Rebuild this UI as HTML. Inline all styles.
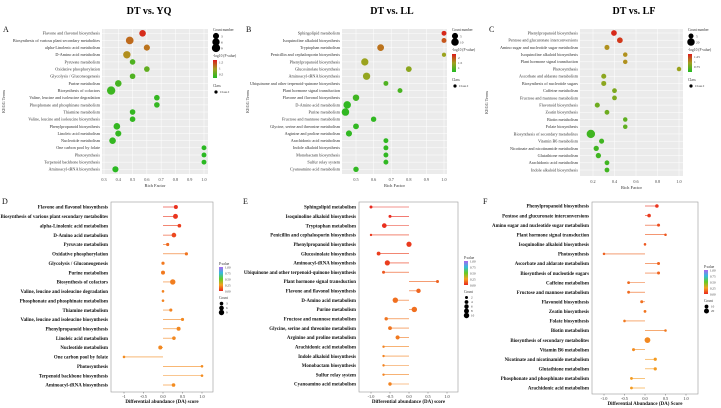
<!DOCTYPE html>
<html><head><meta charset="utf-8">
<style>
html,body{margin:0;padding:0;background:#fff;}
svg{display:block;font-family:"Liberation Serif",serif;}
</style></head>
<body>
<svg id="fig" width="721" height="408" viewBox="0 0 721 408" xmlns="http://www.w3.org/2000/svg">
<defs>
<linearGradient id="gGR" x1="0" y1="1" x2="0" y2="0"><stop offset="0" stop-color="#22bb22"/><stop offset="0.5" stop-color="#a0a020"/><stop offset="1" stop-color="#dd1a1a"/></linearGradient>
<linearGradient id="gP" x1="0" y1="1" x2="0" y2="0"><stop offset="0" stop-color="#e8261e"/><stop offset="0.25" stop-color="#f5a020"/><stop offset="0.5" stop-color="#66cc22"/><stop offset="0.75" stop-color="#33bbdd"/><stop offset="1" stop-color="#aa66ee"/></linearGradient>
</defs>
<text x="149" y="14" font-size="10" font-weight="bold" text-anchor="middle">DT vs. YQ</text>
<text x="392" y="14" font-size="10" font-weight="bold" text-anchor="middle">DT vs. LL</text>
<text x="634" y="14" font-size="10" font-weight="bold" text-anchor="middle">DT vs. LF</text>
<g id="root"></g>
</svg>
<script>
// ---- Panel A data ----
const catsA=["Flavone and flavonol biosynthesis","Biosynthesis of various plant secondary metabolites","alpha-Linolenic acid metabolism","D-Amino acid metabolism","Pyruvate metabolism","Oxidative phosphorylation","Glycolysis / Gluconeogenesis","Purine metabolism","Biosynthesis of cofactors","Valine, leucine and isoleucine degradation","Phosphonate and phosphinate metabolism","Thiamine metabolism","Valine, leucine and isoleucine biosynthesis","Phenylpropanoid biosynthesis","Linoleic acid metabolism","Nucleotide metabolism","One carbon pool by folate","Photosynthesis","Terpenoid backbone biosynthesis","Aminoacyl-tRNA biosynthesis"];
const richA=[0.57,0.48,0.6,0.46,0.5,0.6,0.5,0.4,0.35,0.67,0.67,0.5,0.5,0.39,0.4,0.36,1.0,1.0,1.0,0.38];
const cntA=[4,7,3,6,2,2,2,4,9,2,2,2,2,4,3,4,1,1,1,3];
const logPA=[1.6,1.25,1.2,1.05,0.45,0.55,0.45,0.4,0.35,0.3,0.3,0.3,0.3,0.3,0.3,0.3,0.25,0.25,0.25,0.25];
const ticksA=[0.3,0.4,0.5,0.6,0.7,0.8,0.9,1.0];
// ---- Panel B data ----
const catsB=["Sphingolipid metabolism","Isoquinoline alkaloid biosynthesis","Tryptophan metabolism","Penicillin and cephalosporin biosynthesis","Phenylpropanoid biosynthesis","Glucosinolate biosynthesis","Aminoacyl-tRNA biosynthesis","Ubiquinone and other terpenoid-quinone biosynthesis","Plant hormone signal transduction","Flavone and flavonol biosynthesis","D-Amino acid metabolism","Purine metabolism","Fructose and mannose metabolism","Glycine, serine and threonine metabolism","Arginine and proline metabolism","Arachidonic acid metabolism","Indole alkaloid biosynthesis","Monobactam biosynthesis","Sulfur relay system","Cyanoamino acid metabolism"];
const richB=[1.0,1.0,0.64,1.0,0.55,0.8,0.56,0.67,0.75,0.5,0.45,0.44,0.6,0.5,0.46,0.67,0.67,0.67,0.67,0.5];
const cntB=[2,2,7,1,9,4,9,2,2,6,10,10,3,4,5,2,2,2,2,3];
const logPB=[2.3,2.0,1.8,1.4,1.4,1.3,1.35,0.9,0.85,0.8,0.7,0.7,0.7,0.7,0.7,0.7,0.7,0.7,0.7,0.7];
const ticksB=[0.5,0.6,0.7,0.8,0.9,1.0];
// ---- Panel C data ----
const catsC=["Phenylpropanoid biosynthesis","Pentose and glucuronate interconversions","Amino sugar and nucleotide sugar metabolism","Isoquinoline alkaloid biosynthesis","Plant hormone signal transduction","Photosynthesis","Ascorbate and aldarate metabolism","Biosynthesis of nucleotide sugars","Caffeine metabolism","Fructose and mannose metabolism","Flavonoid biosynthesis","Zeatin biosynthesis","Biotin metabolism","Folate biosynthesis","Biosynthesis of secondary metabolites","Vitamin B6 metabolism","Nicotinate and nicotinamide metabolism","Glutathione metabolism","Arachidonic acid metabolism","Indole alkaloid biosynthesis"];
const richC=[0.395,0.45,0.33,0.5,0.5,1.0,0.3,0.3,0.4,0.4,0.24,0.33,0.5,0.5,0.18,0.28,0.23,0.25,0.33,0.33];
const cntC=[8,8,5,3,3,3,5,5,4,4,5,4,3,3,28,5,6,6,4,4];
const logPC=[1.35,1.3,1.0,1.0,1.0,0.9,0.85,0.85,0.8,0.8,0.75,0.75,0.7,0.7,0.6,0.6,0.6,0.6,0.6,0.6];
const ticksC=[0.2,0.4,0.6,0.8,1.0];
// ---- Panel D data ----
const daD=[0.33,0.32,0.42,0.28,0.12,0.6,0,0,0.25,0,0,0.2,0.5,0.4,0.28,-0.07,-1.0,1.0,1.0,0.27];
const cntDv=[4,7,3,6,2,2,2,4,9,1,1,2,2,4,3,4,1,1,1,3];
const pD=[0.02,0.03,0.05,0.07,0.14,0.16,0.17,0.17,0.18,0.19,0.19,0.19,0.2,0.2,0.2,0.2,0.21,0.21,0.21,0.21];
const ticksDA=[-1,-0.5,0,0.5,1];
// ---- Panel E data ----
const daE=[-1.0,-0.5,-0.65,-1.0,0.0,-0.8,-0.57,-0.67,0.75,0.25,-0.36,0.14,-0.6,-0.5,-0.3,-0.67,-0.67,-0.67,-0.67,-0.5];
const cntE=[2,2,7,1,9,4,9,2,2,6,10,10,3,4,5,1,1,1,1,3];
const pE=[0.005,0.01,0.02,0.04,0.04,0.05,0.05,0.1,0.12,0.13,0.15,0.15,0.16,0.16,0.17,0.19,0.19,0.19,0.19,0.19];
// ---- Panel F data ----
const catsF=["Phenylpropanoid biosynthesis","Pentose and glucuronate interconversions","Amino sugar and nucleotide sugar metabolism","Plant hormone signal transduction","Isoquinoline alkaloid biosynthesis","Photosynthesis","Ascorbate and aldarate metabolism","Biosynthesis of nucleotide sugars","Caffeine metabolism","Fructose and mannose metabolism","Flavonoid biosynthesis","Zeatin biosynthesis","Folate biosynthesis","Biotin metabolism","Biosynthesis of secondary metabolites","Vitamin B6 metabolism","Nicotinate and nicotinamide metabolism","Glutathione metabolism","Phosphonate and phosphinate metabolism","Arachidonic acid metabolism"];
const daF=[0.29,0.1,0.33,0.5,0,-1.0,0.33,0.33,-0.4,-0.4,-0.08,0,-0.5,0.5,0.06,-0.28,0.25,0.25,-0.33,-0.33];
const cntF=[8,8,5,3,3,3,5,5,4,4,5,4,3,3,28,5,6,6,4,4];
const pF=[0.03,0.04,0.08,0.1,0.1,0.12,0.13,0.13,0.14,0.14,0.15,0.16,0.17,0.17,0.2,0.21,0.24,0.24,0.24,0.24];
const catsE=catsB;

const NS="http://www.w3.org/2000/svg";
const root=document.getElementById('root');
function el(tag,attrs,parent,txt){const e=document.createElementNS(NS,tag);for(const k in attrs)e.setAttribute(k,attrs[k]);if(txt!==undefined)e.textContent=txt;(parent||root).appendChild(e);return e;}
function lerp(a,b,t){return a+(b-a)*t;}
function mix(c1,c2,t){return 'rgb('+[0,1,2].map(i=>Math.round(lerp(c1[i],c2[i],t))).join(',')+')';}
function grColor(v,lo,hi){let t=Math.max(0,Math.min(1,(v-lo)/(hi-lo)));if(t<0.5)return mix([34,187,34],[170,160,30],t*2);return mix([170,160,30],[221,26,26],(t-0.5)*2);}
function pColor(p){const stops=[[232,38,30],[245,160,32],[102,204,34],[51,187,221],[170,102,238]];let t=Math.max(0,Math.min(1,p))*4;let i=Math.min(3,Math.floor(t));return mix(stops[i],stops[i+1],t-i);}

function bubble(o){
  const g=el('g',{});
  
  
  const bg=el('rect',{x:o.x0,y:o.y0,width:o.x1-o.x0,height:o.y1-o.y0,fill:'#ebebeb'},g);
  
  
  const xs=v=>o.px0+(v-o.v0)/(o.v1-o.v0)*(o.px1-o.px0);
  const n=o.cats.length;const ys=i=>o.r0+i*(o.r1-o.r0)/(n-1);
  o.ticks.forEach(t=>{el('line',{x1:xs(t),x2:xs(t),y1:o.y0,y2:o.y1,stroke:'#fff','stroke-width':0.5},g);
    const tl=el('text',{x:xs(t),y:o.y1+7,'font-size':4.2,'text-anchor':'middle',fill:'#444'},g,t.toFixed(1));
    });
  o.cats.forEach((c,i)=>{el('line',{x1:o.x0,x2:o.x1,y1:ys(i),y2:ys(i),stroke:'#fff','stroke-width':0.5},g);
    const t=el('text',{x:o.x0-2,y:ys(i)+1.4,'font-size':4.2,'text-anchor':'end',fill:'#333'},g,c);
    });
  o.cats.forEach((c,i)=>{const r=o.rad(o.cnt[i]);
    const b=el('circle',{cx:xs(o.vals[i]),cy:ys(i),r:r,fill:grColor(o.col[i],o.clo,o.chi)},g);
    });
  const xt=el('text',{x:(o.x0+o.x1)/2,y:o.y1+13,'font-size':4.5,'text-anchor':'middle',fill:'#333'},g,'Rich Factor');
  
  const yt=el('text',{transform:`translate(${o.ytx},${(o.y0+o.y1)/2}) rotate(-90)`,'font-size':4.2,'text-anchor':'middle',fill:'#333'},g,'KEGG Terms');
  
  const lx=o.x1+5,ly=o.y0;
  const lg=el('g',{},g);
  el('text',{x:lx,y:ly+2,'font-size':3.6,fill:'#333'},lg,'Count number');
  o.legCnt.forEach((c,i)=>{el('circle',{cx:lx+3,cy:ly+7+i*6,r:o.rad(c),fill:'#000'},lg);el('text',{x:lx+8,y:ly+8.3+i*6,'font-size':3.4,fill:'#333'},lg,String(c));});
  const gy=ly+10+o.legCnt.length*6;
  el('text',{x:lx,y:gy,'font-size':3.6,fill:'#333'},lg,'-log10 (P value)');
  el('rect',{x:lx,y:gy+3,width:4,height:18,fill:'url(#gGR)'},lg);
  o.legCol.forEach(([v,s])=>{const yy=gy+21-(v-o.clo)/(o.chi-o.clo)*18;el('text',{x:lx+6,y:yy+1.2,'font-size':3.4,fill:'#333'},lg,s);});
  el('text',{x:lx,y:gy+30,'font-size':3.6,fill:'#333'},lg,'Class');
  el('circle',{cx:lx+3,cy:gy+35,r:1.6,fill:'#000'},lg);
  el('text',{x:lx+7,y:gy+36.2,'font-size':3.4,fill:'#333'},lg,'Class I');
}

function lollipop(o){
  const g=el('g',{});
  
  
  const frame=el('rect',{x:o.x0,y:o.y0,width:o.x1-o.x0,height:o.y1-o.y0,fill:'#fff',stroke:'#999','stroke-width':0.6},g);
  
  const xs=v=>o.px0+(v-(-1))/2*(o.px1-o.px0);
  const n=o.cats.length;const ys=i=>o.r0+i*(o.r1-o.r0)/(n-1);
  ticksDA.forEach(t=>{el('line',{x1:xs(t),x2:xs(t),y1:o.y1,y2:o.y1+1.5,stroke:'#666','stroke-width':0.5},g);
    const s=o.fmt?o.fmt(t):String(t);
    const tl=el('text',{x:xs(t),y:o.y1+6,'font-size':4.3,'text-anchor':'middle',fill:'#333'},g,s);
    });
  o.cats.forEach((c,i)=>{
    const t=el('text',{x:o.x0-3,y:ys(i)+1.7,'font-size':4.9,'font-weight':'bold','text-anchor':'end',fill:'#111'},g,c);
    
    const col=pColor(o.p[i]);
    const ln=el('line',{x1:xs(0),x2:xs(o.vals[i]),y1:ys(i),y2:ys(i),stroke:col,'stroke-width':0.6},g);
    
    const d=el('circle',{cx:xs(o.vals[i]),cy:ys(i),r:o.rad(o.cnt[i]),fill:col},g);
    });
  const xt=el('text',{x:(o.x0+o.x1)/2,y:o.y1+11,'font-size':5,'font-weight':'bold','text-anchor':'middle',fill:'#111'},g,o.xtitle);
  
  const lx=o.x1+6,ly=o.ly;
  const lg=el('g',{},g);
  el('text',{x:lx,y:ly,'font-size':3.6,fill:'#333'},lg,'P.value');
  el('rect',{x:lx,y:ly+2,width:4,height:24,fill:'url(#gP)'},lg);
  ['1.00','0.75','0.50','0.25','0.00'].forEach((s,i)=>el('text',{x:lx+6,y:ly+3.5+i*6,'font-size':3.2,fill:'#333'},lg,s));
  el('text',{x:lx,y:ly+34,'font-size':3.6,fill:'#333'},lg,'Count');
  o.legCnt.forEach((c,i)=>{el('circle',{cx:lx+2.5,cy:ly+38.5+i*4.5,r:o.rad(c),fill:'#000'},lg);el('text',{x:lx+7,y:ly+39.7+i*4.5,'font-size':3.2,fill:'#333'},lg,String(c));});
}

const radBub=c=>1.6+Math.sqrt(c)*0.85;
bubble({name:'panel-a-bubble-chart',cats:catsA,vals:richA,cnt:cntA,col:logPA,clo:0.2,chi:1.7,x0:102,x1:208,y0:29,y1:174,px0:104,px1:204,v0:0.3,v1:1.0,r0:33.3,r1:169.3,ticks:ticksA,rad:radBub,ytx:5,legCnt:[3,6,9],legCol:[[1.5,'1.5'],[1,'1'],[0.5,'0.5']]});
bubble({name:'panel-b-bubble-chart',cats:catsB,vals:richB,cnt:cntB,col:logPB,clo:0.6,chi:2.4,x0:342,x1:447,y0:29,y1:174,px0:356,px1:444,v0:0.5,v1:1.0,r0:33.3,r1:169.3,ticks:ticksB,rad:c=>1.4+Math.sqrt(c)*0.75,ytx:249,legCnt:[5,10],legCol:[[2,'2'],[1.5,'1.5'],[1,'1']]});
bubble({name:'panel-c-bubble-chart',cats:catsC,vals:richC,cnt:cntC,col:logPC,clo:0.5,chi:1.4,x0:580,x1:683,y0:29,y1:176,px0:593,px1:679,v0:0.2,v1:1.0,r0:33,r1:170,ticks:ticksC,rad:c=>1.3+Math.sqrt(c)*0.55,ytx:488,legCnt:[5,20],legCol:[[1.25,'1.25'],[1,'1'],[0.75,'0.75']]});

const radL=c=>0.6+Math.sqrt(c)*0.7;
lollipop({name:'panel-d-lollipop-chart',cats:catsA,vals:daD,cnt:cntDv,p:pD,x0:111,x1:213,y0:202,y1:392,px0:124,px1:202,r0:207,r1:385,xtitle:'Differential abundance (DA) score',ly:265,rad:radL,legCnt:[3,6,9],fmt:t=>t===0?'0.0':(t===1?'1.0':String(t))});
lollipop({name:'panel-e-lollipop-chart',cats:catsE,vals:daE,cnt:cntE,p:pE,x0:359,x1:458,y0:202,y1:392,px0:371,px1:447,r0:207,r1:384,xtitle:'Differential abundance (DA) score',ly:259,rad:c=>0.5+Math.sqrt(c)*0.7,legCnt:[2,4,6,8,10],fmt:t=>t.toFixed(1)});
lollipop({name:'panel-f-lollipop-chart',cats:catsF,vals:daF,cnt:cntF,p:pF,x0:592,x1:698,y0:202,y1:394,px0:604,px1:686,r0:206,r1:388,xtitle:'Differential Abundance (DA) Score',ly:268,rad:c=>0.5+Math.sqrt(c)*0.45,legCnt:[10,20],fmt:t=>t.toFixed(1)});

[['A',3,32],['B',246,32],['C',489,32],['D',2,204],['E',243,204],['F',483,204]].forEach(([s,x,y])=>{
  const t=el('text',{x:x,y:y,'font-size':8,fill:'#111'},root,s);
  
  
});
</script>
</body></html>
